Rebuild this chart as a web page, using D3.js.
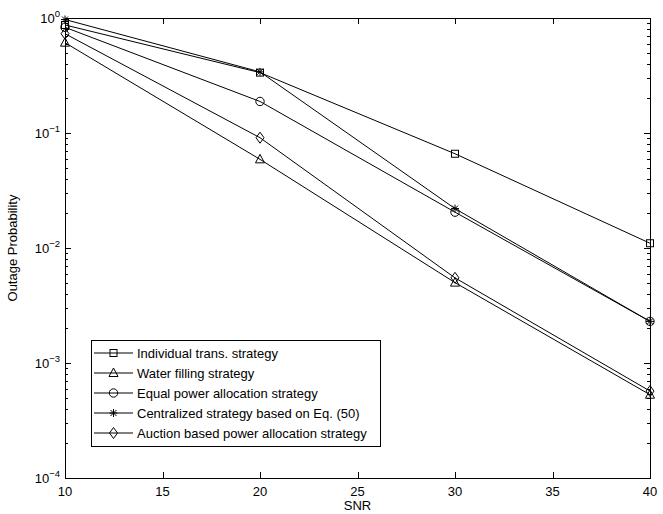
<!DOCTYPE html>
<html>
<head>
<meta charset="utf-8">
<script src="https://cdn.jsdelivr.net/npm/d3@7"></script>
<style>
  body { margin: 0; background: #fff; }
  svg { font-family: "Liberation Sans", Arial, sans-serif; }
</style>
</head>
<body>
<div id="chart"></div>
<script>
// SNR points
const snr = [10, 20, 30, 40];

// outage probability per strategy
const individualTrans = [0.87, 0.335, 0.066, 0.011];
const waterFilling = [0.61, 0.059, 0.0050, 0.00053];
const equalPower = [0.83, 0.188, 0.0205, 0.0023];
const centralized = [0.97, 0.34, 0.022, 0.0023];
const auctionBased = [0.73, 0.091, 0.0055, 0.00057];

const seriesNames = [
    "Individual trans. strategy",
    "Water filling strategy",
    "Equal power allocation strategy",
    "Centralized strategy based on Eq. (50)",
    "Auction based power allocation strategy"
];
const seriesMarkers = ["square", "triangle", "circle", "star", "diamond"];

const xTicks = [10, 15, 20, 25, 30, 35, 40];
const yExponents = [0, -1, -2, -3, -4];

const series = [individualTrans, waterFilling, equalPower, centralized, auctionBased]
    .map((vals, i) => ({ name: seriesNames[i], marker: seriesMarkers[i], values: vals }));

const W = 663, H = 514;
const margin = { top: 18, right: 13, bottom: 36, left: 65 };
const width = W - margin.left - margin.right,
    height = H - margin.top - margin.bottom;

const svg = d3.select("#chart").append("svg")
    .attr("width", W)
    .attr("height", H);

const g = svg.append("g")
    .attr("transform", "translate(" + margin.left + "," + margin.top + ")");

// scales
const x = d3.scaleLinear().domain([10, 40]).range([0, width]);
const y = d3.scaleLog().domain([1e-4, 1]).range([height, 0]);

// minor ticks for log axis
const minorTicks = [];
for (let e = -4; e < 0; e++) {
    for (let m = 2; m <= 9; m++) minorTicks.push(m * Math.pow(10, e));
}

// inward ticks on all four sides (matlab look)
const tickG = g.append("g").attr("stroke", "#000").attr("stroke-width", 1);
xTicks.forEach(t => {
    const px = Math.round(x(t)) + 0.5;
    tickG.append("line").attr("x1", px).attr("x2", px).attr("y1", height).attr("y2", height - 6);
    tickG.append("line").attr("x1", px).attr("x2", px).attr("y1", 0).attr("y2", 6);
});
yExponents.forEach(e => {
    const py = Math.round(y(Math.pow(10, e))) + 0.5;
    tickG.append("line").attr("x1", 0).attr("x2", 6).attr("y1", py).attr("y2", py);
    tickG.append("line").attr("x1", width).attr("x2", width - 6).attr("y1", py).attr("y2", py);
});
minorTicks.forEach(v => {
    const py = Math.round(y(v)) + 0.5;
    tickG.append("line").attr("x1", 0).attr("x2", 3).attr("y1", py).attr("y2", py);
    tickG.append("line").attr("x1", width).attr("x2", width - 3).attr("y1", py).attr("y2", py);
});

// plot box
g.append("rect")
    .attr("x", 0.5).attr("y", 0.5)
    .attr("width", width).attr("height", height)
    .attr("fill", "none")
    .attr("stroke", "#000");

// tick labels
g.selectAll(".x-label")
    .data(xTicks)
    .enter().append("text")
    .attr("class", "x-label")
    .attr("x", d => x(d))
    .attr("y", height + 18)
    .attr("text-anchor", "middle")
    .style("font-size", "13px")
    .text(d => d);

const yLab = g.selectAll(".y-label")
    .data(yExponents)
    .enter().append("text")
    .attr("class", "y-label")
    .attr("x", -5)
    .attr("y", d => y(Math.pow(10, d)) + 5)
    .attr("text-anchor", "end")
    .style("font-size", "13px");
yLab.append("tspan").text("10");
yLab.append("tspan")
    .attr("dy", -6)
    .style("font-size", "9.5px")
    .text(d => d === 0 ? "0" : "\u2212" + (-d));

// axis titles
g.append("text")
    .attr("x", width / 2)
    .attr("y", height + 32)
    .attr("text-anchor", "middle")
    .style("font-size", "13px")
    .text("SNR");

g.append("text")
    .attr("transform", "translate(" + (-48) + "," + (height / 2) + ") rotate(-90)")
    .attr("text-anchor", "middle")
    .style("font-size", "13px")
    .text("Outage Probability");

// marker drawing
function drawMarker(sel, type, cx, cy) {
    const m = sel.append("g").attr("transform", "translate(" + cx + "," + cy + ")")
        .attr("fill", "none").attr("stroke", "#000").attr("stroke-width", 1);
    if (type === "square") {
        m.append("rect").attr("x", -3.5).attr("y", -3.5).attr("width", 7).attr("height", 7);
    } else if (type === "triangle") {
        m.append("path").attr("d", "M0,-5L4.5,3.5L-4.5,3.5Z");
    } else if (type === "circle") {
        m.append("circle").attr("r", 4.2);
    } else if (type === "star") {
        m.append("path").attr("d", "M-4,0H4M0,-4V4M-3,-3L3,3M-3,3L3,-3");
    } else if (type === "diamond") {
        m.append("path").attr("d", "M0,-5.5L4,0L0,5.5L-4,0Z");
    }
}

// lines
const line = d3.line()
    .x((d, i) => x(snr[i]))
    .y(d => y(d));

const plot = g.append("g");
series.forEach(s => {
    plot.append("path")
        .datum(s.values)
        .attr("d", line)
        .attr("fill", "none")
        .attr("stroke", "#000")
        .attr("stroke-width", 1);
    s.values.forEach((v, i) => drawMarker(plot, s.marker, x(snr[i]), y(v)));
});

// legend
const legX = 26, legY = 322, rowH = 20, legW = 289;
const legend = g.append("g").attr("transform", "translate(" + legX + "," + legY + ")");
legend.append("rect")
    .attr("x", 0.5).attr("y", 0.5)
    .attr("width", legW).attr("height", series.length * rowH + 6)
    .attr("fill", "#fff")
    .attr("stroke", "#000");

series.forEach((s, i) => {
    const ry = 13 + i * rowH;
    legend.append("line")
        .attr("x1", 3).attr("x2", 42)
        .attr("y1", ry).attr("y2", ry)
        .attr("stroke", "#000");
    drawMarker(legend, s.marker, 22.5, ry);
    legend.append("text")
        .attr("x", 46)
        .attr("y", ry + 4.5)
        .style("font-size", "13px")
        .text(s.name);
});
</script>
</body>
</html>
